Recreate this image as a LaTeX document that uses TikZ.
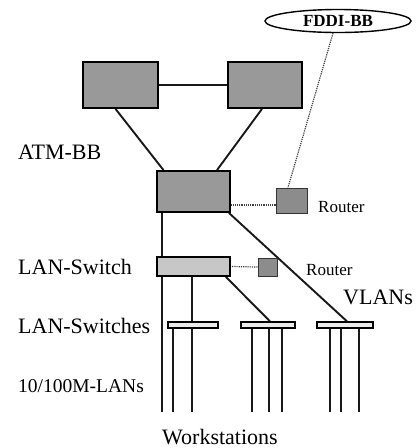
\documentclass[tikz,border=0pt]{standalone}
\usepackage{fontspec}
\setmainfont{Liberation Serif}
\usetikzlibrary{shapes.geometric,backgrounds,calc}
\begin{document}
\begin{tikzpicture}[x=1pt,y=-1pt,
  sw/.style={draw=black,line width=1.8pt,fill=black!40,inner sep=0pt},
  lsw/.style={draw=black,line width=1.5pt,fill=black!22,inner sep=0pt},
  thin/.style={draw=black,line width=1.3pt,fill=black!8,inner sep=0pt,minimum height=6pt},
  rt/.style={draw=black!80,line width=1pt,fill=black!45,inner sep=0pt},
  link/.style={line width=1.9pt,black!90},
  dot/.style={line width=1.2pt,black!75,densely dotted},
  lbl/.style={inner sep=0pt,anchor=west,font=\fontsize{22}{24}\selectfont},
  slbl/.style={inner sep=0pt,anchor=west,font=\fontsize{17}{19}\selectfont}
]
\useasboundingbox (0,0) rectangle (419,448);
% nodes
\node[sw,minimum width=75pt,minimum height=46pt] (tl) at (120.5,85) {};
\node[sw,minimum width=74pt,minimum height=46pt] (tr) at (265,85) {};
\node[sw,minimum width=73pt,minimum height=41pt] (atm) at (193.5,191.5) {};
\node[rt,minimum width=31pt,minimum height=25pt] (r1) at (291.5,200.5) {};
\node[ellipse,draw=black,line width=1.4pt,fill=white,minimum width=146pt,minimum height=23pt,inner sep=0pt,
      font=\fontsize{17}{19}\selectfont\bfseries] (fddi) at (338,21) {FDDI-BB};
\node[lsw,minimum width=73pt,minimum height=19pt] (ls) at (193.5,266.5) {};
\node[rt,minimum width=19pt,minimum height=18pt] (r2) at (267.5,267) {};
\node[thin,minimum width=50pt] (s1) at (193,325) {};
\node[thin,minimum width=54pt] (s2) at (268,325) {};
\node[thin,minimum width=56pt] (s3) at (345,325) {};
% free ends
\coordinate (b) at (0,412);
% labels
\node[lbl] (l1) at (18,152) {ATM-BB};
\node[lbl] (l2) at (18,267) {LAN-Switch};
\node[lbl] (l3) at (18,326) {LAN-Switches};
\node[inner sep=0pt,anchor=west,font=\fontsize{19.5}{21}\selectfont] (l4) at (18,386) {10/100M-LANs};
\node[lbl,anchor=center] (l5) at (220,437) {Workstations};
\node[lbl] (l6) at (343,297) {VLANs};
\node[slbl] (l7) at (318,207) {Router};
\node[slbl] (l8) at (306,270) {Router};
\begin{scope}[on background layer]
  \fill[white] (0,0) rectangle (419,448);
  \draw[link] (tl.east) -- (tr.west);
  \draw[link] ($(tl.south)+(-5,0)$) -- ($(atm.north)+(-30,0)$);
  \draw[link] ($(tr.south)+(-3,0)$) -- ($(atm.north)+(23.5,0)$);
  \draw[link] ($(atm.south)+(-31.5,0)$) -- (b -| {$(atm.south)+(-31.5,0)$});
  \draw[link] ($(atm.south east)+(-2,0)$) -- ($(s3.north)+(2,0)$);
  \draw[link] ($(ls.south)+(-1.5,0)$) -- (b -| {$(ls.south)+(-1.5,0)$});
  \draw[link] ($(ls.south east)+(-5,0)$) -- ($(s2.north)+(2,0)$);
  \foreach \dx in {-20} \draw[link] ($(s1.south)+(\dx,0)$) -- (b -| {$(s1.south)+(\dx,0)$});
  \foreach \dx in {-16,1,14} \draw[link] ($(s2.south)+(\dx,0)$) -- (b -| {$(s2.south)+(\dx,0)$});
  \foreach \dx in {-15,-4,14} \draw[link] ($(s3.south)+(\dx,0)$) -- (b -| {$(s3.south)+(\dx,0)$});
  \draw[dot] (r1.west |- 0,205) -- (atm.east |- 0,205);
  \draw[dot] (r2.west) -- (ls.east);
  \draw[dot] ($(fddi.south)+(-5,0)$) -- ($(r1.north)+(-3.5,0)$);
\end{scope}
\end{tikzpicture}
\end{document}
